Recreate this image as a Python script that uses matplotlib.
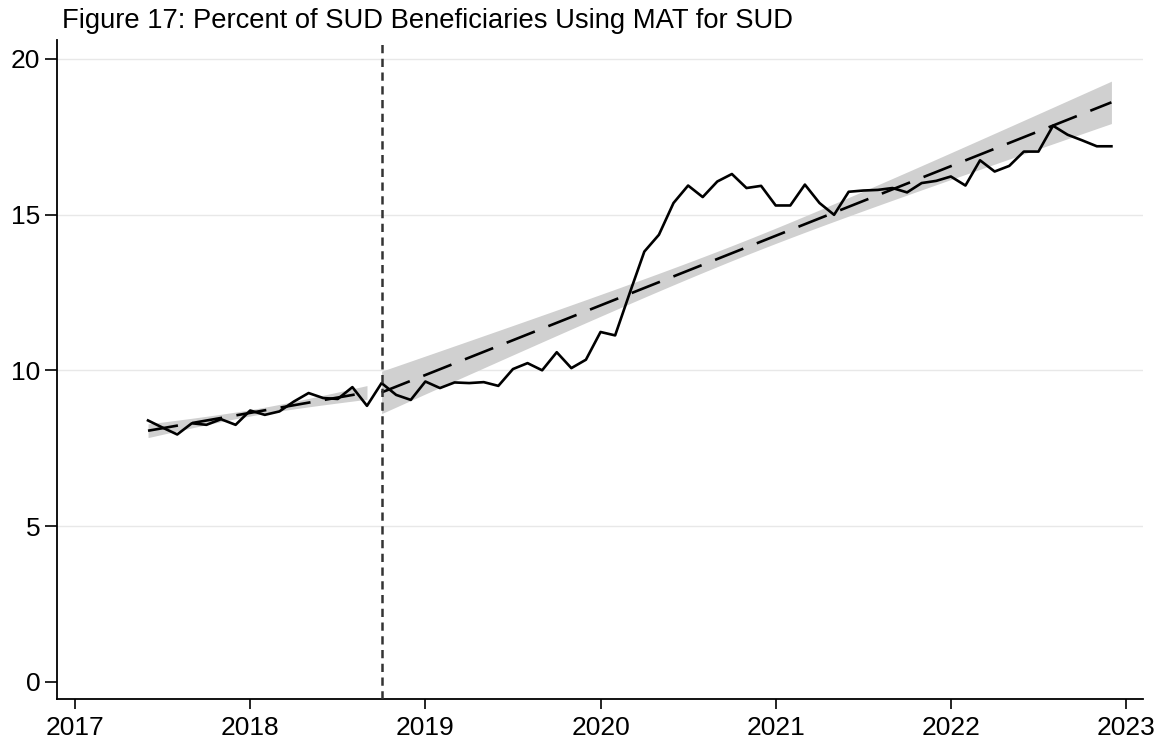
import numpy as np
import matplotlib
matplotlib.use("Agg")
import matplotlib.pyplot as plt

plt.rcParams['font.family'] = ['Liberation Sans', 'DejaVu Sans']

# ---- data (monthly, Jun 2017 - Dec 2022) ----
start_year, start_month = 2017, 6
values = [
    8.39, 8.16, 7.94, 8.30, 8.25, 8.43, 8.25,            # Jun-Dec 2017
    8.71, 8.57, 8.68, 9.00, 9.27, 9.11, 9.08, 9.46, 8.86, 9.59, 9.21, 9.05,  # 2018
    9.64, 9.43, 9.61, 9.59, 9.62, 9.50, 10.04, 10.23, 10.00, 10.58, 10.07, 10.34,  # 2019
    11.23, 11.12, 12.48, 13.81, 14.35, 15.37, 15.93, 15.56, 16.06, 16.30, 15.85, 15.92,  # 2020
    15.29, 15.29, 15.96, 15.37, 14.99, 15.73, 15.77, 15.79, 15.85, 15.71, 16.01, 16.08,  # 2021
    16.22, 15.93, 16.74, 16.38, 16.56, 17.02, 17.02, 17.85, 17.56, 17.38, 17.19, 17.19,  # 2022
]
intervention = 2018.75  # Oct 2018

# fitted trend endpoints (pre and post periods)
pre_fit_x = [2017 + 5/12, 2018 + 8/12]
pre_fit_y = [8.06, 9.29]
post_fit_x = [2018 + 9/12, 2022 + 11/12]
post_fit_y = [9.29, 18.60]
# confidence band half-widths: at the ends and at the centre of each fit
pre_ci_end, pre_ci_mid = 0.22, 0.10
post_ci_end, post_ci_mid = 0.68, 0.24

yticks = [0, 5, 10, 15, 20]
xticks = [2017, 2018, 2019, 2020, 2021, 2022, 2023]
title = "Figure 17: Percent of SUD Beneficiaries Using MAT for SUD"

# ---- figure ----
n = len(values)
t = np.array([start_year + (start_month - 1 + i) / 12 for i in range(n)])

fig = plt.figure(figsize=(11.61, 7.40), dpi=100)
ax = fig.add_axes([0.0491, 0.0554, 0.9354, 0.8905])

def draw_fit(xs, ys, ci_end, ci_mid):
    xx = np.linspace(xs[0], xs[1], 200)
    yy = np.interp(xx, xs, ys)
    xc = (xs[0] + xs[1]) / 2
    u = (xx - xc) / (xs[1] - xc)
    hw = np.sqrt(ci_mid**2 + (ci_end**2 - ci_mid**2) * u**2)
    ax.fill_between(xx, yy - hw, yy + hw, color='#d0d0d0', lw=0, zorder=2)
    ax.plot(xx, yy, color='black', lw=1.9, dashes=(11.5, 5.5), zorder=3)

draw_fit(pre_fit_x, pre_fit_y, pre_ci_end, pre_ci_mid)
draw_fit(post_fit_x, post_fit_y, post_ci_end, post_ci_mid)

ax.plot(t, values, color='black', lw=1.9, zorder=4)
ax.axvline(intervention, color='#333333', lw=1.8, dashes=(3.3, 2.2), zorder=5)

for yv in yticks[1:]:
    ax.axhline(yv, color='#e8e8e8', lw=1.0, zorder=0)

ax.set_xlim(2016.897, 2023.097)
ax.set_ylim(-0.55, 20.6)
ax.set_xticks(xticks)
ax.set_yticks(yticks)
ax.tick_params(axis='both', labelsize=19, direction='out', width=1.2, color='black')
ax.tick_params(axis='x', length=7, pad=5)
ax.tick_params(axis='y', length=8.4, pad=3.5)
for s in ['top', 'right']:
    ax.spines[s].set_visible(False)
for s in ['left', 'bottom']:
    ax.spines[s].set_linewidth(1.3)

fig.text(0.0534, 1 - 28/740, title, fontsize=19.7, va='baseline', ha='left')

fig.savefig('out.png', dpi=100, facecolor='white')
